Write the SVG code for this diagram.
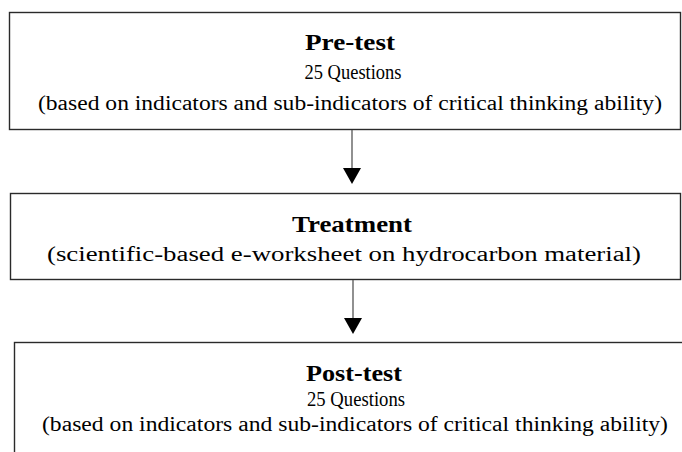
<svg xmlns="http://www.w3.org/2000/svg" width="682" height="452" viewBox="0 0 682 452">
<style>
.box{fill:#fff;stroke:#2a2a2a;stroke-width:1.4}
.t{font-family:"Liberation Serif","Times New Roman",serif;fill:#000;text-anchor:middle}
.h{font-size:23px;font-weight:bold}
.s{font-size:20.5px}
.ln{stroke:#555;stroke-width:1.3}
</style>
<rect width="682" height="452" fill="#fff"/>
<g id="pretest">
<rect class="box" x="9.5" y="12.5" width="671" height="117"/>
<text class="t h" x="350" y="50" textLength="90" lengthAdjust="spacingAndGlyphs">Pre-test</text>
<text class="t s" x="353" y="79" textLength="97" lengthAdjust="spacingAndGlyphs">25 Questions</text>
<text class="t s" x="350" y="110" textLength="624" lengthAdjust="spacingAndGlyphs">(based on indicators and sub-indicators of critical thinking ability)</text>
</g>
<g id="treatment">
<rect class="box" x="10.5" y="193.5" width="670" height="86"/>
<text class="t h" x="352" y="232" textLength="120" lengthAdjust="spacingAndGlyphs">Treatment</text>
<text class="t s" x="344" y="261" textLength="594" lengthAdjust="spacingAndGlyphs">(scientific-based e-worksheet on hydrocarbon material)</text>
</g>
<g id="posttest">
<rect class="box" x="14.5" y="342.5" width="700" height="150"/>
<text class="t h" x="354" y="381" textLength="96" lengthAdjust="spacingAndGlyphs">Post-test</text>
<text class="t s" x="356" y="406" textLength="98" lengthAdjust="spacingAndGlyphs">25 Questions</text>
<text class="t s" x="355" y="431" textLength="626" lengthAdjust="spacingAndGlyphs">(based on indicators and sub-indicators of critical thinking ability)</text>
</g>
<g id="connectors">
<line class="ln" x1="352" y1="130" x2="352" y2="169"/>
<polygon points="343,168 361,168 352,184" fill="#000"/>
<line class="ln" x1="353" y1="280" x2="353" y2="319"/>
<polygon points="344,318 362,318 353,334" fill="#000"/>
</g>
</svg>
